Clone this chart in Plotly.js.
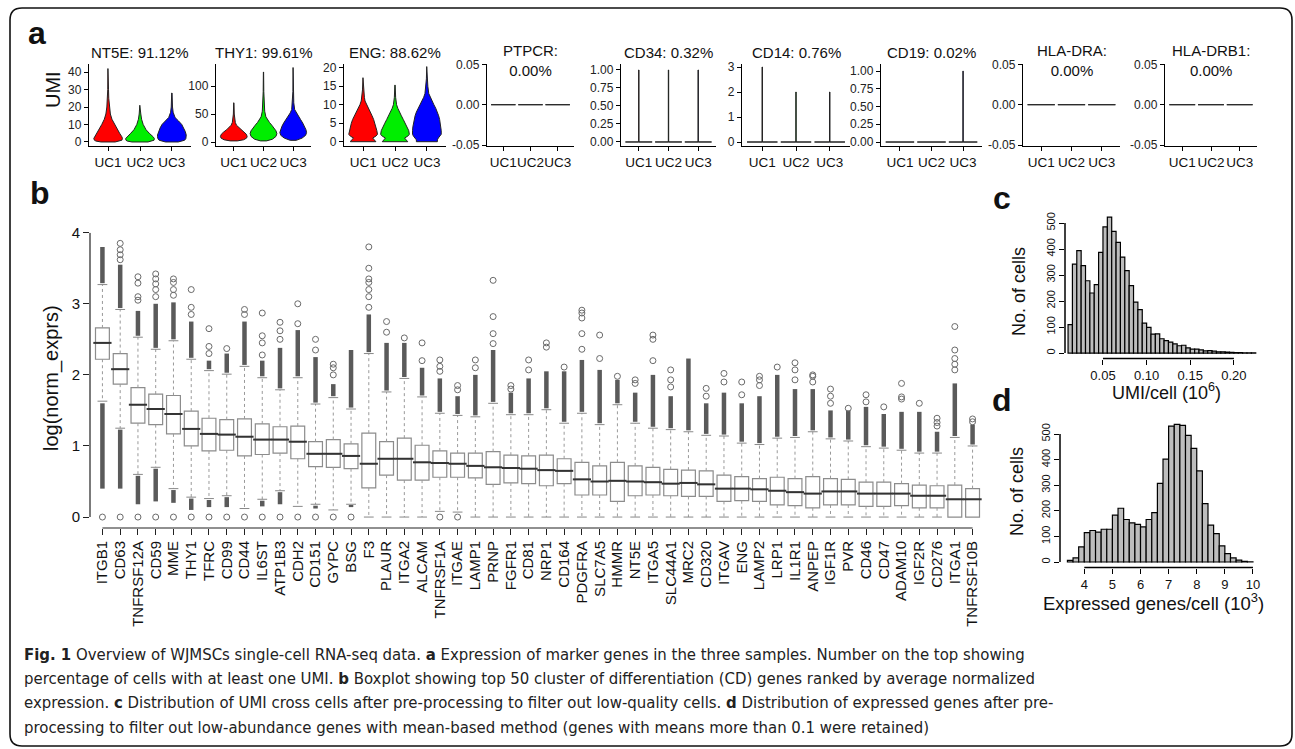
<!DOCTYPE html>
<html><head><meta charset="utf-8">
<script src="https://cdn.plot.ly/plotly-3.0.1.min.js"></script>
<style>html,body{margin:0;padding:0;background:#fff;} #chart{width:1295px;height:749px;}</style>
</head><body><div id="chart"></div>
<script>
// ---------------- DATA ----------------
// Panel a
const samples = ['UC1','UC2','UC3'];
const markerGenes = ['NT5E','THY1','ENG','PTPCR','CD34','CD14','CD19','HLA-DRA','HLA-DRB1'];
const pctExpressed = ['91.12%','99.61%','88.62%','0.00%','0.32%','0.76%','0.02%','0.00%','0.00%'];

const NT5E_ticks = [0,10,20,30,40];
const THY1_ticks = [0,50,100];
const ENG_ticks = [0,5,10,15,20];
const ZERO_ticks = [-0.05,0,0.05];
const ZERO_labels = ['-0.05','0.00','0.05'];
const FRAC_ticks = [0,0.25,0.5,0.75,1];
const FRAC_labels = ['0.00','0.25','0.50','0.75','1.00'];
const CD14_ticks = [0,1,2,3];

// violin outlines: UMI levels and half-widths (category units)
const NT5E_UC1_y = [0,0.5,1,2,3,5,7,10,13,16,20,25,30,42];
const NT5E_UC1_w = [0.22,0.38,0.43,0.45,0.43,0.36,0.3,0.2,0.12,0.07,0.04,0.02,0.012,0.006];
const NT5E_UC2_y = [0,0.5,1,2,3,5,7,10,13,16,21];
const NT5E_UC2_w = [0.25,0.4,0.44,0.45,0.41,0.29,0.19,0.1,0.05,0.025,0.006];
const NT5E_UC3_y = [0,0.5,1,2,3,4,6,8,10,12,14,17,20,28];
const NT5E_UC3_w = [0.2,0.33,0.4,0.44,0.45,0.45,0.42,0.37,0.31,0.21,0.1,0.04,0.02,0.006];

const THY1_UC1_y = [2,4,7,10,14,18,22,26,30,35,40,50,70];
const THY1_UC1_w = [0.12,0.33,0.43,0.45,0.42,0.34,0.24,0.15,0.09,0.05,0.03,0.015,0.005];
const THY1_UC2_y = [2,5,10,15,20,25,30,35,40,45,55,70,90,125];
const THY1_UC2_w = [0.1,0.3,0.42,0.45,0.42,0.36,0.28,0.2,0.13,0.08,0.04,0.02,0.01,0.004];
const THY1_UC3_y = [3,7,12,17,22,28,34,40,46,52,58,70,90,133];
const THY1_UC3_w = [0.1,0.3,0.42,0.45,0.43,0.38,0.32,0.25,0.18,0.1,0.05,0.02,0.01,0.004];

const ENG_UC1_y = [0,0.5,1,1.5,2,3,4,5,6,7,8,9,10,11,12,14,17.3];
const ENG_UC1_w = [0.4,0.36,0.3,0.4,0.45,0.43,0.4,0.37,0.33,0.28,0.22,0.16,0.1,0.06,0.04,0.02,0.005];
const ENG_UC2_y = [0,0.5,1,1.5,2,3,4,5,6,7,8,9,10,12,15.3];
const ENG_UC2_w = [0.4,0.36,0.3,0.4,0.45,0.43,0.38,0.32,0.26,0.2,0.14,0.09,0.05,0.02,0.005];
const ENG_UC3_y = [0,0.5,1,1.5,2,3,4,5,6,7,8,9,10,11,12,13,15,17,20.3];
const ENG_UC3_w = [0.33,0.33,0.36,0.42,0.45,0.45,0.44,0.42,0.4,0.37,0.33,0.28,0.22,0.16,0.1,0.06,0.03,0.015,0.005];

const FLAT_y = [0,0];
const FLAT_w = [0.45,0.45];
const SPIKE_w = [0.45,0.006,0.006];
const CD34_UC1_y = [0,0,1], CD34_UC2_y = [0,0,1], CD34_UC3_y = [0,0,1];
const CD14_UC1_y = [0,0,3], CD14_UC2_y = [0,0,2], CD14_UC3_y = [0,0,2];
const CD19_UC3_y = [0,0,1];

// Panel b
const genes = ['ITGB1','CD63','TNFRSF12A','CD59','MME','THY1','TFRC','CD99','CD44','IL6ST','ATP1B3','CDH2','CD151','GYPC','BSG','F3','PLAUR','ITGA2','ALCAM','TNFRSF1A','ITGAE','LAMP1','PRNP','FGFR1','CD81','NRP1','CD164','PDGFRA','SLC7A5','HMMR','NT5E','ITGA5','SLC44A1','MRC2','CD320','ITGAV','ENG','LAMP2','LRP1','IL1R1','ANPEP','IGF1R','PVR','CD46','CD47','ADAM10','IGF2R','CD276','ITGA1','TNFRSF10B'];
const q3 = [2.66,2.30,1.82,1.73,1.71,1.49,1.39,1.37,1.38,1.31,1.27,1.28,1.06,1.09,1.03,1.18,1.06,1.11,1.01,0.93,0.90,0.90,0.92,0.87,0.86,0.87,0.82,0.77,0.72,0.77,0.72,0.70,0.67,0.66,0.65,0.59,0.57,0.54,0.56,0.54,0.57,0.54,0.53,0.49,0.49,0.47,0.45,0.44,0.45,0.40];
const medianVal = [2.45,2.08,1.58,1.52,1.45,1.24,1.17,1.16,1.13,1.09,1.09,1.06,0.89,0.89,0.86,0.75,0.82,0.82,0.77,0.76,0.75,0.72,0.70,0.69,0.68,0.66,0.65,0.53,0.50,0.51,0.50,0.49,0.47,0.48,0.46,0.40,0.40,0.39,0.37,0.35,0.33,0.36,0.36,0.33,0.33,0.33,0.30,0.30,0.25,0.25];
const q1 = [2.22,1.87,1.32,1.30,1.17,1.00,0.93,0.94,0.86,0.88,0.90,0.82,0.71,0.70,0.68,0.41,0.59,0.52,0.52,0.56,0.56,0.55,0.46,0.48,0.47,0.44,0.47,0.31,0.31,0.22,0.30,0.31,0.30,0.29,0.29,0.22,0.23,0.22,0.17,0.16,0.13,0.17,0.17,0.15,0.15,0.16,0.13,0.13,0.00,0.00];
const upperWhisker = [3.27,2.92,2.53,2.36,2.48,2.22,2.06,2.01,2.12,1.96,1.79,1.96,1.59,1.68,1.52,2.30,1.76,1.95,1.69,1.46,1.43,1.41,1.60,1.44,1.44,1.51,1.32,1.46,1.30,1.58,1.32,1.25,1.23,1.20,1.15,1.14,1.04,1.02,1.11,1.12,1.20,1.10,1.07,0.99,0.97,0.94,0.90,0.90,1.12,1.00];
const lowerWhisker = [1.63,1.25,0.60,0.70,0.40,0.28,0.26,0.30,0.12,0.25,0.37,0.15,0.18,0.10,0.18,0,0,0,0,0.08,0.07,0,0,0,0,0,0,0,0,0,0,0,0,0,0,0,0,0,0,0,0,0,0,0,0,0,0,0,0,0];
const upDenseLo = [3.29,2.94,2.55,2.38,2.50,2.24,2.08,2.03,2.14,1.98,1.81,1.98,1.61,1.70,1.54,2.32,1.78,1.97,1.71,1.48,1.45,1.43,1.62,1.46,1.46,1.53,1.34,1.48,1.32,1.60,1.34,1.27,1.25,1.22,1.17,1.16,1.06,1.04,1.13,1.14,1.22,1.12,1.09,1.01,0.99,0.96,0.92,0.92,1.14,1.02];
const upDenseHi = [3.80,3.55,2.90,3.00,3.02,2.75,2.20,2.30,2.75,2.20,2.38,2.63,2.25,1.87,2.35,2.85,2.45,2.45,2.10,1.95,1.70,2.00,2.35,1.75,1.95,2.05,2.05,2.21,2.07,1.93,1.75,2.00,1.70,2.23,1.60,1.75,1.60,1.70,2.00,1.80,1.80,1.50,1.50,1.55,1.45,1.48,1.48,1.20,1.88,1.30];
const upSparse = [[],[3.62,3.69,3.76,3.85],[3.05,3.1,3.29,3.38],[3.1,3.2,3.28,3.35,3.42],[3.12,3.2,3.3,3.35],[2.85,2.95,3.2],[2.3,2.4,2.65],[2.37],[2.85,2.92],[2.28,2.45,2.55,2.87],[2.5,2.62,2.74],[2.72,3.0],[2.35,2.5],[2.0,2.1,2.15],[],[2.95,3.1,3.2,3.3,3.35,3.5,3.8],[2.6,2.75],[2.52],[2.2,2.45],[2.05,2.12,2.21],[1.79,1.85],[2.1,2.21],[2.44,2.58,2.82,3.33],[1.8,1.85],[2.07,2.21],[2.39,2.45],[2.11],[2.36,2.58,2.8,2.87,2.91],[2.23,2.56],[1.98],[1.88,1.93],[2.2,2.5,2.56],[1.83,1.93,2.07],[],[1.7,1.81],[1.9,2.02],[1.72,1.9],[1.85,1.93,1.98],[2.11],[1.93,2.07,2.17],[1.9,1.98,2.0],[1.6,1.7,1.8],[1.53],[1.62,1.72],[1.55],[1.66,1.69,1.88],[1.6],[1.28,1.33,1.39],[2.07,2.15,2.23,2.35,2.68],[1.34,1.38]];
const lowDenseLo = [0.40,0.40,0.18,0.22,0.20,0.10,0.14,0.14,null,0.15,0.18,null,0.12,null,0.14];
const lowDenseHi = [1.60,1.23,0.58,0.68,0.38,0.26,0.24,0.28,null,0.23,0.35,null,0.16,null,0.17];
const lowSparse = [[0],[0],[0],[0],[0],[0],[0],[0],[0],[0],[0],[0],[0],[0],[0],[],[],[],[],[0],[0],[],[],[],[],[],[],[],[],[],[],[],[],[],[],[],[],[],[],[],[],[],[],[],[],[],[],[],[],[]];
const bTicks = [0,1,2,3,4];

// Panel c: UMI per cell histogram (x 10^6)
const umiBinStart = 0.010, umiBinWidth = 0.005;
const umiCounts = [109,342,394,336,278,231,263,387,485,523,468,426,369,317,259,196,167,115,99,73,74,55,48,42,35,28,30,20,15,15,12,8,9,7,5,5,4,3,2,2,1,1,1];
const umiTicks = [0.05,0.10,0.15,0.20];
const umiTickText = ['0.05','0.10','0.15','0.20'];

// Panel d: expressed genes per cell histogram (x 10^3)
const geneBinStart = 3.4, geneBinWidth = 0.2;
const geneCounts = [6,16,59,115,123,117,128,128,183,210,166,153,147,137,166,193,307,402,531,538,534,495,444,356,228,144,111,63,33,16,7,3,1];
const geneTicks = [4,5,6,7,8,9,10];
const countTicks = [0,100,200,300,400,500];

const captionLines = [
 '<b>Fig. 1</b> Overview of WJMSCs single-cell RNA-seq data. <b>a</b> Expression of marker genes in the three samples. Number on the top showing',
 'percentage of cells with at least one UMI. <b>b</b> Boxplot showing top 50 cluster of differentiation (CD) genes ranked by average normalized',
 'expression. <b>c</b> Distribution of UMI cross cells after pre-processing to filter out low-quality cells. <b>d</b> Distribution of expressed genes after pre-',
 'processing to filter out low-abundance genes with mean-based method (genes with means more than 0.1 were retained)'
];

// ---------------- LAYOUT / DRAW ----------------
const W = 1295, H = 749;
const fx = p => p / W;
const fy = p => 1 - p / H;
const FONT = 'Liberation Sans, Arial, sans-serif';
const CAPFONT = 'Liberation Sans Narrow, DejaVu Sans Condensed, Roboto Condensed, Liberation Sans, sans-serif';

const traces = [];
const layout = {
  width: W, height: H, margin: {l:0, r:0, t:0, b:0},
  paper_bgcolor: '#fff', plot_bgcolor: 'rgba(0,0,0,0)',
  showlegend: false, font: {family: FONT, color: '#111'},
  shapes: [], annotations: []
};
const axName = k => (k === 1 ? '' : String(k));

const violinSets = [
  [[NT5E_UC1_y,NT5E_UC1_w],[NT5E_UC2_y,NT5E_UC2_w],[NT5E_UC3_y,NT5E_UC3_w]],
  [[THY1_UC1_y,THY1_UC1_w],[THY1_UC2_y,THY1_UC2_w],[THY1_UC3_y,THY1_UC3_w]],
  [[ENG_UC1_y,ENG_UC1_w],[ENG_UC2_y,ENG_UC2_w],[ENG_UC3_y,ENG_UC3_w]],
  [[FLAT_y,FLAT_w],[FLAT_y,FLAT_w],[FLAT_y,FLAT_w]],
  [[CD34_UC1_y,SPIKE_w],[CD34_UC2_y,SPIKE_w],[CD34_UC3_y,SPIKE_w]],
  [[CD14_UC1_y,SPIKE_w],[CD14_UC2_y,SPIKE_w],[CD14_UC3_y,SPIKE_w]],
  [[FLAT_y,FLAT_w],[FLAT_y,FLAT_w],[CD19_UC3_y,SPIKE_w]],
  [[FLAT_y,FLAT_w],[FLAT_y,FLAT_w],[FLAT_y,FLAT_w]],
  [[FLAT_y,FLAT_w],[FLAT_y,FLAT_w],[FLAT_y,FLAT_w]]
];
const violinColors = ['#ff0000','#00ee00','#0000ff'];
const aBoxes = [[89,191],[216,311],[344,446],[487,574],[621,716],[742,850],[881,982],[1023,1120],[1165,1257]];
const aYRanges = [[-2.3,44.6],[-7.1,139.3],[-1.16,21.0],[-0.0512,0.0505],[-0.056,1.083],[-0.16,3.12],[-0.056,1.10],[-0.0512,0.0505],[-0.0512,0.0505]];
const aTickVals = [NT5E_ticks,THY1_ticks,ENG_ticks,ZERO_ticks,FRAC_ticks,CD14_ticks,FRAC_ticks,ZERO_ticks,ZERO_ticks];
const aTickText = [null,null,null,ZERO_labels,FRAC_labels,null,FRAC_labels,ZERO_labels,ZERO_labels];
const aWrap = [false,false,false,true,false,false,false,true,true];
const A_TOP = 64, A_BOT = 146;

markerGenes.forEach((g, p) => {
  const k = p + 1, xa = 'x' + axName(k), ya = 'y' + axName(k);
  violinSets[p].forEach((vs, s) => {
    const ys = vs[0], ws = vs[1], c = s + 1;
    const xs = [], yy = [];
    for (let i = 0; i < ys.length; i++) { xs.push(c + ws[i]); yy.push(ys[i]); }
    for (let i = ys.length - 1; i >= 0; i--) { xs.push(c - ws[i]); yy.push(ys[i]); }
    xs.push(xs[0]); yy.push(yy[0]);
    traces.push({type:'scatter', mode:'lines', x:xs, y:yy, fill:'toself', fillcolor:violinColors[s],
      line:{color:'#222', width:1}, xaxis:xa, yaxis:ya, hoverinfo:'skip'});
  });
  const [l, r] = aBoxes[p];
  layout['xaxis' + axName(k)] = {domain:[fx(l), fx(r)], range:[0.4,3.6], anchor:ya, tickmode:'array', tickvals:[1,2,3], ticktext:samples,
    tickangle:0, ticks:'outside', ticklen:4, tickcolor:'#000', showline:true, linecolor:'#000', linewidth:1.2,
    showgrid:false, zeroline:false, tickfont:{size:13.5, color:'#111', family:FONT}};
  const yax = {domain:[fy(A_BOT), fy(A_TOP)], range:aYRanges[p], anchor:xa, tickmode:'array', tickvals:aTickVals[p],
    ticks:'outside', ticklen:4, tickcolor:'#000', showline:true, linecolor:'#000', linewidth:1.2,
    showgrid:false, zeroline:false, tickfont:{size:12, color:'#222', family:FONT}};
  if (aTickText[p]) yax.ticktext = aTickText[p];
  layout['yaxis' + axName(k)] = yax;
  const title = g + ':' + (aWrap[p] ? '<br>' : ' ') + pctExpressed[p];
  layout.annotations.push({xref:'paper', yref:'paper', x:fx((l + r) / 2), y:fy(aWrap[p] ? 61 : 53),
    text:title, showarrow:false, xanchor:'center', yanchor:'middle', font:{size:15, color:'#111', family:FONT}});
});

// Panel b
const XB = 'x10', YB = 'y10';
{
  const wx = [], wy = [], cx = [], cy = [];
  genes.forEach((g, i) => {
    wx.push(g, g, null); wy.push(q3[i], upperWhisker[i], null);
    cx.push(g); cy.push(upperWhisker[i]);
    if (lowerWhisker[i] < q1[i]) { wx.push(g, g, null); wy.push(q1[i], lowerWhisker[i], null); cx.push(g); cy.push(lowerWhisker[i]); }
  });
  traces.push({type:'scatter', mode:'lines', x:wx, y:wy, line:{color:'#999', width:1, dash:'3px,3px'}, xaxis:XB, yaxis:YB, hoverinfo:'skip'});
  traces.push({type:'scatter', mode:'markers', x:cx, y:cy, marker:{symbol:'line-ew', size:7, line:{color:'#888', width:1}}, xaxis:XB, yaxis:YB, hoverinfo:'skip'});
  traces.push({type:'box', x:genes, q1:q1, median:medianVal, q3:q3, lowerfence:q1, upperfence:q3,
    width:0.78, whiskerwidth:0, fillcolor:'#fff', line:{color:'#8c8c8c', width:1.2}, xaxis:XB, yaxis:YB, hoverinfo:'skip', boxpoints:false});
  const dx = [], dy = [];
  genes.forEach((g, i) => {
    dx.push(g, g, null); dy.push(upDenseLo[i], upDenseHi[i], null);
    if (i < lowDenseLo.length && lowDenseLo[i] !== null) { dx.push(g, g, null); dy.push(lowDenseLo[i], lowDenseHi[i], null); }
  });
  traces.push({type:'scatter', mode:'lines', x:dx, y:dy, line:{color:'#5a5a5a', width:4.5}, xaxis:XB, yaxis:YB, hoverinfo:'skip'});
  const sx = [], sy = [];
  genes.forEach((g, i) => {
    upSparse[i].forEach(v => { sx.push(g); sy.push(v); });
    lowSparse[i].forEach(v => { sx.push(g); sy.push(v); });
  });
  traces.push({type:'scatter', mode:'markers', x:sx, y:sy, marker:{symbol:'circle-open', size:6, color:'#6a6a6a', line:{width:1}}, xaxis:XB, yaxis:YB, hoverinfo:'skip'});
  traces.push({type:'scatter', mode:'markers', x:genes, y:medianVal, marker:{symbol:'line-ew', size:13, line:{color:'#333', width:2}}, xaxis:XB, yaxis:YB, hoverinfo:'skip'});
}
layout.xaxis10 = {domain:[fx(90), fx(985)], type:'category', categoryarray:genes, range:[-0.7, genes.length - 0.3], anchor:YB,
  tickmode:'array', tickvals:genes, ticktext:genes,
  tickangle:-90, ticks:'outside', ticklen:6, tickcolor:'#222', showline:false, showgrid:false, zeroline:false,
  tickfont:{size:15, color:'#111', family:FONT}};
layout.yaxis10 = {domain:[fy(528), fy(232.7)], range:[-0.154, 4.0], anchor:XB, tickmode:'array', tickvals:bTicks,
  ticks:'outside', ticklen:6, tickcolor:'#222', showline:false, showgrid:false, zeroline:false,
  tickfont:{size:15, color:'#111', family:FONT}};
layout.shapes.push({type:'line', xref:'x10 domain', x0:0, x1:0, yref:'y10', y0:bTicks[0], y1:bTicks[bTicks.length-1], line:{color:'#222', width:1.2}});
layout.shapes.push({type:'line', xref:'x10', x0:0, x1:genes.length - 1, yref:'y10 domain', y0:0, y1:0, line:{color:'#222', width:1.2}});

// Panels c, d
{
  const xc = umiCounts.map((_, i) => umiBinStart + (i + 0.5) * umiBinWidth);
  traces.push({type:'bar', x:xc, y:umiCounts, width:umiBinWidth, marker:{color:'#bdbdbd', line:{color:'#000', width:1.2}}, xaxis:'x11', yaxis:'y11', hoverinfo:'skip'});
  const xd = geneCounts.map((_, i) => geneBinStart + (i + 0.5) * geneBinWidth);
  traces.push({type:'bar', x:xd, y:geneCounts, width:geneBinWidth, marker:{color:'#bdbdbd', line:{color:'#000', width:1.2}}, xaxis:'x12', yaxis:'y12', hoverinfo:'skip'});
}
const histAxisX = {tickmode:'array', ticks:'outside', ticklen:5, tickcolor:'#000', showline:false, showgrid:false, zeroline:false, tickfont:{size:13, color:'#111', family:FONT}};
const histAxisY = {tickmode:'array', ticks:'outside', ticklen:5, tickcolor:'#000', showline:false, showgrid:false, zeroline:false, tickangle:-90, tickvals:countTicks, tickfont:{size:11, color:'#111', family:FONT}};
layout.xaxis11 = Object.assign({}, histAxisX, {domain:[fx(1065), fx(1263.6)], range:[0.0065, 0.234], anchor:'y11', tickvals:umiTicks, ticktext:umiTickText});
layout.yaxis11 = Object.assign({}, histAxisY, {domain:[fy(358.5), fy(211.6)], range:[-21, 544], anchor:'x11'});
layout.xaxis12 = Object.assign({}, histAxisX, {domain:[fx(1060), fx(1260.4)], range:[3.136, 10.264], anchor:'y12', tickvals:geneTicks});
layout.yaxis12 = Object.assign({}, histAxisY, {domain:[fy(567.5), fy(418.8)], range:[-21.5, 559.5], anchor:'x12'});
[['x11','y11',umiTicks],['x12','y12',geneTicks]].forEach(([xa, ya, tv]) => {
  layout.shapes.push({type:'line', xref:xa, x0:tv[0], x1:tv[tv.length-1], yref:ya + ' domain', y0:0, y1:0, line:{color:'#000', width:1.5}});
  layout.shapes.push({type:'line', xref:xa + ' domain', x0:0, x1:0, yref:ya, y0:countTicks[0], y1:countTicks[countTicks.length-1], line:{color:'#000', width:1.5}});
});

// Text annotations
const ann = (px, py, text, size, opts) => layout.annotations.push(Object.assign({xref:'paper', yref:'paper', x:fx(px), y:fy(py), text:text,
  showarrow:false, xanchor:'center', yanchor:'middle', font:{size:size, color:'#111', family:FONT}}, opts || {}));
ann(37, 33, '<b>a</b>', 32);
ann(40, 193, '<b>b</b>', 32);
ann(1002, 198, '<b>c</b>', 32);
ann(1002, 400, '<b>d</b>', 32);
ann(53, 90, 'UMI', 20, {textangle:-90});
ann(52, 378, 'log(norm_exprs)', 20, {textangle:-90});
ann(1019, 292, 'No. of cells', 18, {textangle:-90});
ann(1017, 492, 'No. of cells', 18, {textangle:-90});
ann(1166, 391, 'UMI/cell (10<sup>6</sup>)', 18);
ann(1153, 602, 'Expressed genes/cell (10<sup>3</sup>)', 18.5);
const capY = [654, 678, 702, 727];
captionLines.forEach((t, i) => ann(22, capY[i], t, 16.6, {xanchor:'left', font:{size:16.6, color:'#222', family:CAPFONT}}));

// Frame
{
  const x0 = 10, y0 = 8, x1 = 1292, y1 = 746, r = 12;
  const P = (a, b) => fx(a) + ',' + fy(b);
  const path = 'M' + P(x0 + r, y0) + ' L' + P(x1 - r, y0) + ' Q' + P(x1, y0) + ' ' + P(x1, y0 + r) +
    ' L' + P(x1, y1 - r) + ' Q' + P(x1, y1) + ' ' + P(x1 - r, y1) + ' L' + P(x0 + r, y1) +
    ' Q' + P(x0, y1) + ' ' + P(x0, y1 - r) + ' L' + P(x0, y0 + r) + ' Q' + P(x0, y0) + ' ' + P(x0 + r, y0) + ' Z';
  layout.shapes.push({type:'path', xref:'paper', yref:'paper', path:path, line:{color:'#111', width:1.6}});
}

Plotly.newPlot('chart', traces, layout, {staticPlot:true, displayModeBar:false});
</script></body></html>
